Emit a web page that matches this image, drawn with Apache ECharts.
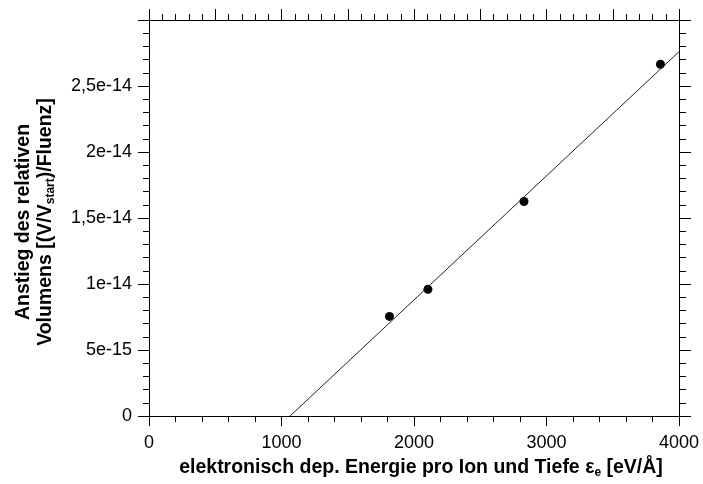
<!DOCTYPE html>
<html>
<head>
<meta charset="utf-8">
<script src="https://cdn.jsdelivr.net/npm/echarts@6/dist/echarts.min.js"></script>
<style>
  html, body { margin: 0; padding: 0; background: #fff; }
  #chart { width: 703px; height: 484px; }
</style>
</head>
<body>
<div id="chart"></div>
<script>
// Measured slope of the relative volume vs. electronic energy deposition
const energyX = [1815, 2105, 2830, 3860];            // eV/Å
const slopeY = [7.55e-15, 9.6e-15, 1.625e-14, 2.665e-14];

// Linear fit drawn across the plot
const fitX = [1064, 4000];
const fitY = [0, 2.76e-14];

// Y tick labels (German decimal comma)
const yTickLabels = ['0', '5e-15', '1e-14', '1,5e-14', '2e-14', '2,5e-14', ''];

const FONT = '"Liberation Sans", Arial, Helvetica, sans-serif';
const INK = '#000';

const chart = echarts.init(document.getElementById('chart'), null, { renderer: 'canvas' });

const baseAxis = {
  axisLine: { show: true, onZero: false, lineStyle: { color: INK, width: 1 } },
  splitLine: { show: false },
  minorSplitLine: { show: false }
};

const titleRich = {
  b: { fontSize: 19.5, fontWeight: 'bold', fontFamily: FONT, color: INK, lineHeight: 22 },
  s: { fontSize: 12, fontWeight: 'bold', fontFamily: FONT, color: INK, lineHeight: 12, verticalAlign: 'bottom' }
};

chart.setOption({
  animation: false,
  backgroundColor: '#fff',
  grid: { left: 149, right: 24, top: 20, bottom: 62, containLabel: false },
  xAxis: [
    Object.assign({}, baseAxis, {
      type: 'value', position: 'bottom', min: 0, max: 4000, interval: 1000,
      axisTick: { show: true, inside: false, length: 10, lineStyle: { color: INK, width: 1 } },
      minorTick: { show: true, splitNumber: 5, length: 6, lineStyle: { color: INK, width: 1 } },
      axisLabel: {
        show: true, margin: 18, fontSize: 18, fontFamily: FONT, color: INK,
        formatter: function (v) { return String(v); }
      },
      name: '{b|elektronisch dep. Energie pro Ion und Tiefe ε}{s|e}{b| [eV/Å]}',
      nameLocation: 'middle', nameGap: 39,
      nameTextStyle: {
        fontSize: 19.5, fontWeight: 'bold', fontFamily: FONT, color: INK,
        padding: [0, 0, 0, 14], lineHeight: 22, verticalAlign: 'top',
        rich: titleRich
      }
    }),
    Object.assign({}, baseAxis, {
      type: 'value', position: 'top', min: 0, max: 4000, interval: 500,
      axisTick: { show: true, inside: false, length: 11, lineStyle: { color: INK, width: 1 } },
      minorTick: { show: true, splitNumber: 5, length: 6, lineStyle: { color: INK, width: 1 } },
      axisLabel: { show: false }
    })
  ],
  yAxis: [
    Object.assign({}, baseAxis, {
      type: 'value', position: 'left', min: 0, max: 3e-14, interval: 5e-15,
      axisTick: { show: true, inside: false, length: 11, lineStyle: { color: INK, width: 1 } },
      minorTick: { show: true, splitNumber: 5, length: 6, lineStyle: { color: INK, width: 1 } },
      axisLabel: {
        show: true, margin: 17, fontSize: 18, fontFamily: FONT, color: INK,
        formatter: function (v) {
          const i = Math.round(v / 5e-15);
          return yTickLabels[i] !== undefined ? yTickLabels[i] : '';
        }
      }
    }),
    Object.assign({}, baseAxis, {
      type: 'value', position: 'right', min: 0, max: 3e-14, interval: 5e-15,
      axisTick: { show: true, inside: false, length: 12, lineStyle: { color: INK, width: 1 } },
      minorTick: { show: true, splitNumber: 5, length: 7, lineStyle: { color: INK, width: 1 } },
      axisLabel: { show: false }
    })
  ],
  graphic: [
    {
      type: 'text',
      x: 35, y: 222,
      rotation: Math.PI / 2,
      style: {
        text: '{b|Anstieg des relativen}\n{b|Volumens [(V/V}{s|start}{b|)/Fluenz]}',
        align: 'center', verticalAlign: 'middle',
        fontFamily: FONT, fill: INK,
        rich: {
          b: { fontSize: 19.5, fontWeight: 'bold', fontFamily: FONT, fill: INK, lineHeight: 22 },
          s: { fontSize: 12, fontWeight: 'bold', fontFamily: FONT, fill: INK, lineHeight: 12, verticalAlign: 'bottom' }
        }
      }
    }
  ],
  series: [
    {
      type: 'line',
      xAxisIndex: 0, yAxisIndex: 0,
      data: fitX.map((x, i) => [x, fitY[i]]),
      showSymbol: false, symbol: 'none',
      lineStyle: { color: '#222', width: 1 },
      silent: true
    },
    {
      type: 'scatter',
      xAxisIndex: 0, yAxisIndex: 0,
      data: energyX.map((x, i) => [x, slopeY[i]]),
      symbol: 'circle', symbolSize: 9,
      itemStyle: { color: INK, opacity: 1 }
    }
  ]
});
</script>
</body>
</html>
